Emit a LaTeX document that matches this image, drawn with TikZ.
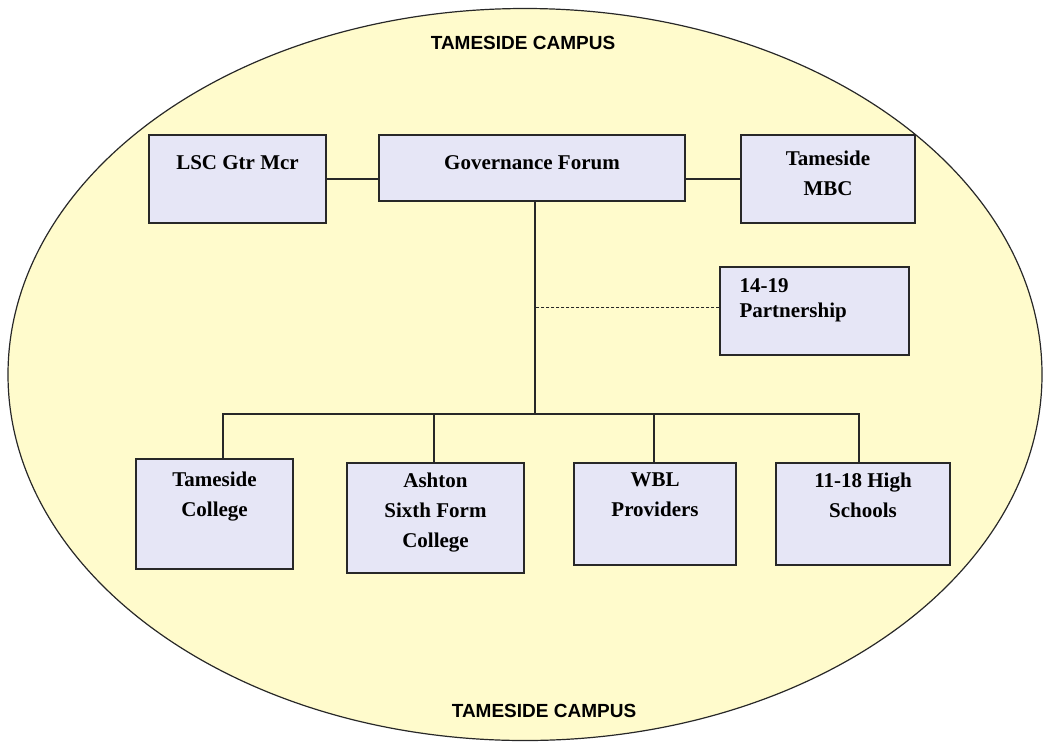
\documentclass[tikz,border=0pt]{standalone}
\usepackage{fontspec}
\setmainfont{Liberation Serif}
\setsansfont{Liberation Sans}
\definecolor{campfill}{RGB}{255,251,204}
\definecolor{boxfill}{RGB}{230,230,246}
\definecolor{edge}{RGB}{40,40,40}
\tikzset{
  box/.style={draw=edge, line width=1.4pt, fill=boxfill, inner sep=0pt},
  btxt/.style={font=\bfseries\fontsize{21}{30}\selectfont, align=center, anchor=north, inner sep=0pt},
  camp/.style={font=\sffamily\bfseries\fontsize{19}{19}\selectfont, inner sep=0pt},
  link/.style={line width=1.3pt, draw=edge}
}
\begin{document}
\begin{tikzpicture}[x=1pt,y=-1pt]
\useasboundingbox (0,0) rectangle (1048,742);
\fill[white] (0,0) rectangle (1048,742);
% campus ellipse
\draw[fill=campfill, draw=edge, line width=1.2pt] (525,374.5) ellipse [x radius=517pt, y radius=366pt];
\node[camp] (ctop) at (523,43) {TAMESIDE CAMPUS};
\node[camp] (cbot) at (544,711) {TAMESIDE CAMPUS};
% boxes
\node[box, minimum width=177pt, minimum height=88pt] (lsc) at (237.5,179) {};
\node[box, minimum width=306pt, minimum height=66pt] (gf) at (532,168) {};
\node[box, minimum width=174pt, minimum height=88pt] (mbc) at (828,179) {};
\node[box, minimum width=189pt, minimum height=88pt] (p1419) at (814.5,311) {};
\node[box, minimum width=157pt, minimum height=110pt] (tc) at (214.5,514) {};
\node[box, minimum width=177pt, minimum height=110pt] (asfc) at (435.5,518) {};
\node[box, minimum width=162pt, minimum height=102pt] (wbl) at (655,514) {};
\node[box, minimum width=174pt, minimum height=102pt] (hs) at (863,514) {};
% texts
\node[btxt, yshift=-21pt] (tlsc) at (lsc.north) {LSC Gtr Mcr};
\node[btxt, yshift=-21pt] (tgf) at (gf.north) {Governance Forum};
\node[btxt, yshift=-16pt] (tmbc) at (mbc.north) {Tameside\\MBC};
\node[btxt, anchor=north west, align=left, font=\bfseries\fontsize{21}{25}\selectfont, xshift=20pt, yshift=-12pt] (tp) at (p1419.north west) {14-19\\Partnership};
\node[btxt, yshift=-13pt] (ttc) at (tc.north) {Tameside\\College};
\node[btxt, yshift=-10pt] (tasfc) at (asfc.north) {Ashton\\Sixth Form\\College};
\node[btxt, yshift=-10pt] (twbl) at (wbl.north) {WBL\\Providers};
\node[btxt, yshift=-10pt] (ths) at (hs.north) {11-18 High\\Schools};
% connectors
\draw[link] (lsc.east) -- (lsc.east -| gf.west);
\draw[link] (gf.east |- mbc.west) -- (mbc.west);
\coordinate (top) at ([xshift=3pt]gf.south);
\coordinate (hub) at (535,414);
\coordinate (tcd) at ([xshift=8.5pt]tc.north);
\coordinate (hsd) at ([xshift=-4pt]hs.north);
\coordinate (asd) at ([xshift=-1.5pt]asfc.north);
\coordinate (wbd) at ([xshift=-1pt]wbl.north);
\draw[link] (top) -- (hub);
\draw[link] (tcd) |- (hub -| hsd) -- (hsd);
\draw[link] (asd) -- (asd |- hub);
\draw[link] (wbd) -- (wbd |- hub);
\coordinate (pw) at ([yshift=4pt]p1419.west);
\draw[link, line width=1pt, dash pattern=on 3pt off 2pt] (pw) -- (pw -| top);
\end{tikzpicture}
\end{document}
